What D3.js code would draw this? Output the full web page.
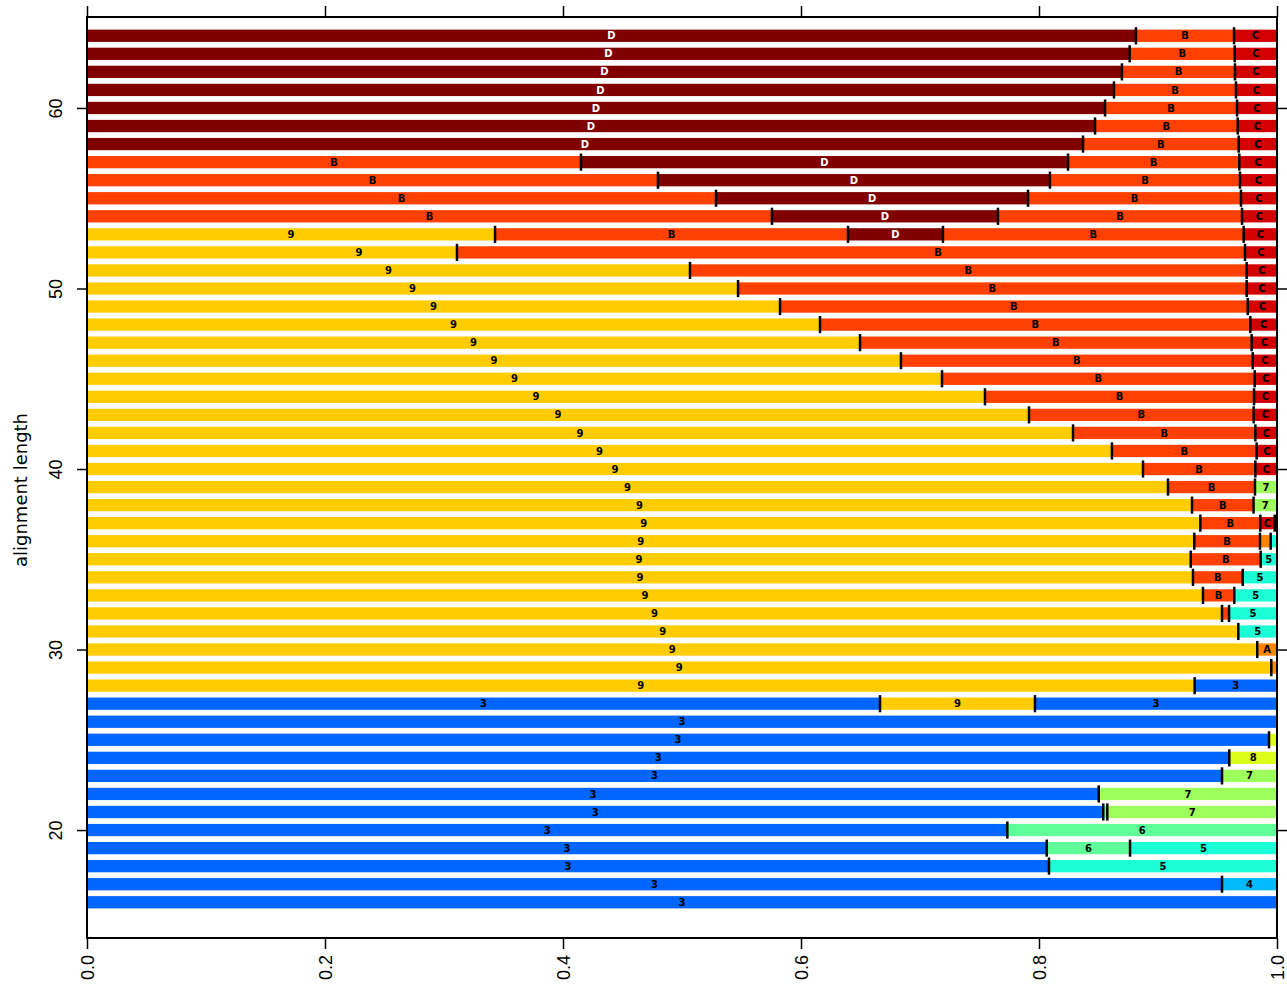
<!DOCTYPE html>
<html>
<head>
<meta charset="utf-8">
<script src="https://cdn.jsdelivr.net/npm/d3@7"></script>
<style>
  body { margin: 0; background: #fff; }
  svg { display: block; font-family: "DejaVu Sans", sans-serif; }
  .seg-label { font-size: 10px; font-weight: bold; }
  .tick text { font-size: 18px; fill: #000; }
</style>
</head>
<body>
<svg id="chart" width="1287" height="994"></svg>
<script>
// Alignment lengths (one bar each)
const lengths = [64, 63, 62, 61, 60, 59, 58, 57, 56, 55, 54, 53, 52, 51, 50, 49, 48, 47, 46, 45, 44, 43, 42, 41, 40,
  39, 38, 37, 36, 35, 34, 33, 32, 31, 30, 29, 28, 27, 26, 25, 24, 23, 22, 21, 20, 19, 18, 17, 16];

// Segment categories per bar, left to right
const segKeys = ["DBC", "DBC", "DBC", "DBC", "DBC", "DBC", "DBC", "BDBC", "BDBC", "BDBC", "BDBC", "9BDBC", "9BC", "9BC",
  "9BC", "9BC", "9BC", "9BC", "9BC", "9BC", "9BC", "9BC", "9BC", "9BC", "9BC",
  "9B7", "9B7", "9BC5", "9BA5", "9B5", "9B5", "9B5", "9B5", "95", "9A", "9A", "93", "393", "3", "38", "38", "37",
  "37", "367", "36", "365", "35", "34", "3"];

// Cumulative segment ends (fraction), last segment always runs to 1
const segEnds = [
  [0.8815, 0.9639], [0.8762, 0.9645], [0.8697, 0.9647], [0.8630, 0.9655], [0.8555, 0.9664], [0.8471, 0.9670],
  [0.8370, 0.9678], [0.4151, 0.8244, 0.9683], [0.4798, 0.8092, 0.9689], [0.5286, 0.7908, 0.9697],
  [0.5756, 0.7655, 0.9706], [0.3429, 0.6395, 0.7193, 0.9720], [0.3109, 0.9731], [0.5067, 0.9745],
  [0.5471, 0.9745], [0.5824, 0.9754], [0.6160, 0.9776], [0.6496, 0.9787], [0.6840, 0.9796], [0.7185, 0.9813],
  [0.7546, 0.9807], [0.7916, 0.9804], [0.8286, 0.9818], [0.8613, 0.9829], [0.8874, 0.9818],
  [0.9084, 0.9815], [0.9286, 0.9803], [0.9356, 0.9860, 0.9981], [0.9305, 0.9857, 0.9947], [0.9275, 0.9863],
  [0.9294, 0.9712], [0.9378, 0.9641], [0.9538, 0.9597], [0.9675], [0.9834], [0.9952], [0.9308],
  [0.6664, 0.7966], [], [0.9933], [0.9599], [0.9538], [0.8502], [0.8540, 0.8574], [0.7734],
  [0.8065, 0.8765], [0.8084], [0.9538], []
];

// Bars whose printed labels sit on other boundaries than the drawn segments
const labelShiftLens = [52];
const labelShiftEnds = [[0.4571, 0.9731]];

const yTicks = [20, 30, 40, 50, 60];
const xTicks = [0, 0.2, 0.4, 0.6, 0.8, 1.0];

const colors = {
  "3": "#0066ff", "4": "#00bbff", "5": "#1cffd6", "6": "#5fff9a", "7": "#9cff5c", "8": "#dcff1a",
  "9": "#ffcc00", "A": "#ff8400", "B": "#ff4000", "C": "#d20000", "D": "#800000"
};

const svg = d3.select("#chart");
const margin = { top: 17, right: 10, bottom: 56, left: 87 };
const width = 1287, height = 994;

const x = d3.scaleLinear().domain([0, 1]).range([margin.left, width - margin.right]);
const y = d3.scaleLinear().domain([14.02, 65.04]).range([height - margin.bottom, margin.top]);

const unit = Math.abs(y(1) - y(0));
const barH = unit * 0.68;
const markH = unit * 0.95;

// Build segments
const segs = [];
const marks = [];
lengths.forEach((len, i) => {
  const ends = segEnds[i].concat([1]);
  const s = labelShiftLens.indexOf(len);
  const lEnds = s >= 0 ? labelShiftEnds[s].concat([1]) : ends;
  let start = 0, lStart = 0;
  segKeys[i].split("").forEach((k, j) => {
    segs.push({ len, key: k, x0: start, x1: ends[j], l0: lStart, l1: lEnds[j] });
    if (j > 0) marks.push({ len, v: start });
    start = ends[j];
    lStart = lEnds[j];
  });
});

svg.append("g")
  .selectAll("rect")
  .data(segs)
  .join("rect")
  .attr("x", d => x(d.x0))
  .attr("width", d => x(d.x1) - x(d.x0))
  .attr("y", d => y(d.len) - barH / 2)
  .attr("height", barH)
  .attr("fill", d => colors[d.key]);

svg.append("g")
  .selectAll("text")
  .data(segs.filter(d => d.l1 - d.l0 > 0.0105))
  .join("text")
  .attr("class", "seg-label")
  .attr("x", d => x((d.l0 + d.l1) / 2))
  .attr("y", d => y(d.len))
  .attr("dy", "0.36em")
  .attr("text-anchor", "middle")
  .attr("fill", d => d.key === "D" ? "#fff" : "#000")
  .text(d => d.key);

svg.append("g")
  .selectAll("line")
  .data(marks)
  .join("line")
  .attr("x1", d => x(d.v))
  .attr("x2", d => x(d.v))
  .attr("y1", d => y(d.len) - markH / 2)
  .attr("y2", d => y(d.len) + markH / 2)
  .attr("stroke", "#000")
  .attr("stroke-width", 2.5);

// Axes
const left = svg.append("g")
  .attr("transform", `translate(${margin.left},0)`)
  .call(d3.axisLeft(y).tickValues(yTicks).tickSize(10).tickFormat(d3.format("d")));
left.selectAll(".tick text")
  .attr("x", 0).attr("y", -25).attr("dy", 0)
  .attr("text-anchor", "middle")
  .attr("transform", "rotate(-90)");

svg.append("g")
  .attr("transform", `translate(${width - margin.right},0)`)
  .call(d3.axisRight(y).tickValues(yTicks).tickSize(10).tickFormat(""));

const bottom = svg.append("g")
  .attr("transform", `translate(0,${height - margin.bottom})`)
  .call(d3.axisBottom(x).tickValues(xTicks).tickSize(11).tickFormat(d3.format(".1f")));
bottom.selectAll(".tick text")
  .attr("x", -17).attr("y", 6.5).attr("dy", 0)
  .attr("text-anchor", "end")
  .attr("transform", "rotate(-90)");

svg.append("g")
  .attr("transform", `translate(0,${margin.top})`)
  .call(d3.axisTop(x).tickValues(xTicks).tickSize(11).tickFormat(""));

svg.selectAll(".domain").remove();
svg.selectAll(".tick line").attr("stroke", "#000").attr("stroke-width", 1.5);

// Frame
svg.append("rect")
  .attr("x", margin.left)
  .attr("y", margin.top)
  .attr("width", width - margin.right - margin.left)
  .attr("height", height - margin.bottom - margin.top)
  .attr("fill", "none")
  .attr("stroke", "#000")
  .attr("stroke-width", 2);

// Axis title
svg.append("text")
  .attr("transform", "rotate(-90)")
  .attr("x", -490)
  .attr("y", 27)
  .attr("text-anchor", "middle")
  .style("font-size", "18px")
  .text("alignment length");
</script>
</body>
</html>
